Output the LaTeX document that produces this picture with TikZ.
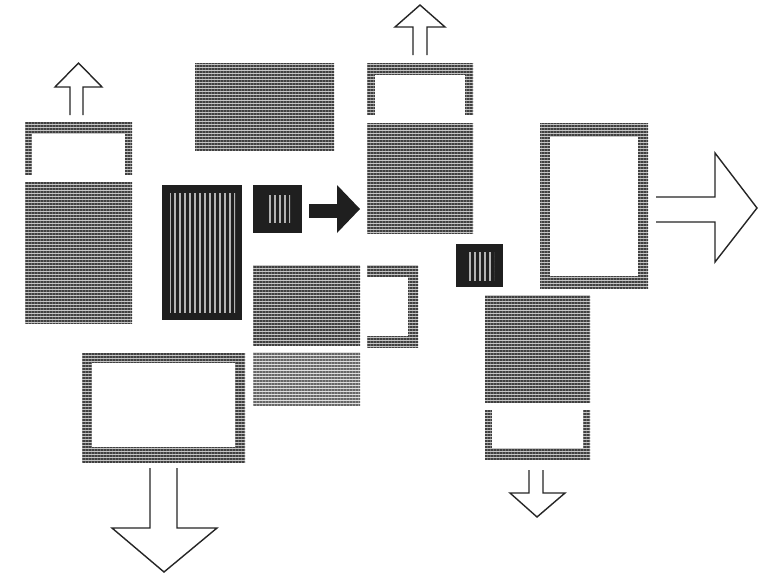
\documentclass[tikz,border=0pt]{standalone}
\usetikzlibrary{patterns.meta}
\tikzset{
  hatch/.style={fill=gray!45, postaction={pattern={Lines[distance=3pt,line width=1.4pt]}, pattern color=black!75}},
  hatchlight/.style={fill=gray!25, postaction={pattern={Lines[distance=3pt,line width=1.1pt]}, pattern color=black!60}},
  hole/.style={fill=white},
  darkbox/.style={fill=black!88},
  streaks/.style={pattern={Lines[angle=90,distance=5pt,line width=1.4pt]}, pattern color=white!70!black},
  hollow/.style={draw=black!85, line width=1.4pt, fill=white, line join=miter},
  solidarrow/.style={fill=black!88},
}
\begin{document}
\begin{tikzpicture}[x=1pt,y=-1pt]
\useasboundingbox (0,0) rectangle (760,579);
\fill[white] (0,0) rectangle (760,579);

% left column
\path[hatch] (25,122) rectangle (132,175);
\path[hole] (32,134) rectangle (125,176);
\path[hatch] (25,182) rectangle (132,323);
\path[hollow] (70,115) -- (70,87) -- (55,87) -- (78.5,63) -- (102,87) -- (83,87) -- (83,115);

% top centre block
\path[hatch] (195,63) rectangle (334,150);

% dark block
\path[darkbox] (162,185) rectangle (242,320);
\path[streaks] (170,193) rectangle (235,312);

% small dark square and solid arrow
\path[darkbox] (253,185) rectangle (302,233);
\path[streaks] (266,195) rectangle (290,222);
\path[solidarrow] (309,204) rectangle (339,218);
\path[solidarrow] (337,185) -- (360,209) -- (337,233) -- cycle;

% right-centre column
\path[hatch] (367,63) rectangle (473,115);
\path[hole] (375,75) rectangle (465,116);
\path[hatch] (367,123) rectangle (473,233);
\path[hollow] (413,55) -- (413,27) -- (395,27) -- (420,5) -- (445,27) -- (427,27) -- (427,55);

% centre bottom block
\path[hatch] (253,265) rectangle (360,345);
\path[hatchlight] (253,352) rectangle (360,405);

% bracket frame
\path[hatch] (367,265) rectangle (418,347);
\path[hole] (366,277) rectangle (408,336);

% second small dark square
\path[darkbox] (456,244) rectangle (503,287);
\path[streaks] (466,252) rectangle (494,280);

% right frame and big arrow
\path[hatch] (540,123) rectangle (648,288);
\path[hole] (550,137) rectangle (638,276);
\path[hollow] (656,197) -- (715,197) -- (715,153) -- (757,208) -- (715,262) -- (715,222) -- (656,222);

% right-bottom column
\path[hatch] (485,295) rectangle (590,403);
\path[hatch] (485,410) rectangle (590,460);
\path[hole] (492,409) rectangle (583,448);
\path[hollow] (529,470) -- (529,493) -- (510,493) -- (537,517) -- (565,493) -- (543,493) -- (543,470);

% bottom-left frame and arrow
\path[hatch] (82,353) rectangle (245,462);
\path[hole] (92,363) rectangle (235,447);
\path[hollow] (150,468) -- (150,528) -- (112,528) -- (164,572) -- (217,528) -- (177,528) -- (177,468);
\end{tikzpicture}
\end{document}
